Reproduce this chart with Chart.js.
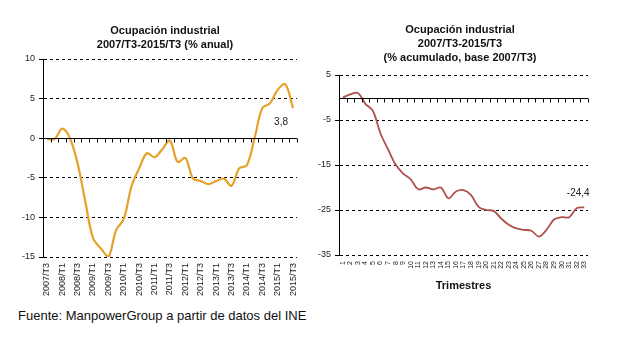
<!DOCTYPE html>
<html>
<head>
<meta charset="utf-8">
<script src="https://cdn.jsdelivr.net/npm/chart.js@4/dist/chart.umd.min.js"></script>
<style>
  body { margin: 0; background: #fff; width: 630px; height: 340px; position: relative; overflow: hidden; font-family: "Liberation Sans", Arial, sans-serif; }
  .box { position: absolute; top: 0; }
  .title { position: absolute; text-align: center; font-weight: bold; font-size: 11px; line-height: 14px; color: #111; }
  #footer { position: absolute; left: 18px; top: 308px; font-size: 13px; color: #111; }
</style>
</head>
<body>
<div class="box" style="left:0;width:310px;height:300px"><canvas id="left_chart" width="310" height="300"></canvas></div>
<div class="box" style="left:310px;width:320px;height:300px"><canvas id="right_chart" width="320" height="300"></canvas></div>
<div class="title" style="left:65px;width:200px;top:23px">Ocupación industrial<br>2007/T3-2015/T3 (% anual)</div>
<div class="title" style="left:360px;width:200px;top:22px">Ocupación industrial<br>2007/T3-2015/T3<br>(% acumulado, base 2007/T3)</div>
<div id="footer">Fuente: ManpowerGroup a partir de datos del INE</div>
<script>
// DATA
const quarters = ['2007/T3', '2007/T4', '2008/T1', '2008/T2', '2008/T3', '2008/T4', '2009/T1', '2009/T2', '2009/T3',
	'2009/T4', '2010/T1', '2010/T2', '2010/T3', '2010/T4', '2011/T1', '2011/T2', '2011/T3', '2011/T4', '2012/T1',
	'2012/T2', '2012/T3', '2012/T4', '2013/T1', '2013/T2', '2013/T3', '2013/T4', '2014/T1', '2014/T2', '2014/T3',
	'2014/T4', '2015/T1', '2015/T2', '2015/T3'];
const annual_values = [-0.1, -0.1, 1.2, 0.0, -3.2, -8.0, -12.6, -13.9, -15.0, -11.6, -10.2, -6.1, -3.8, -1.9, -2.4, -1.4,
	-0.3, -3.0, -2.5, -5.1, -5.4, -5.8, -5.4, -5.1, -6.0, -3.8, -3.4, 0.0, 3.8, 4.4, 6.1, 6.8, 3.8];
const trimestres = ['1', '2', '3', '4', '5', '6', '7', '8', '9', '10', '11', '12', '13', '14', '15', '16', '17', '18',
	'19', '20', '21', '22', '23', '24', '25', '26', '27', '28', '29', '30', '31', '32', '33'];
const cumulative_values = [0.0, 0.7, 1.0, -1.4, -3.0, -8.0, -11.5, -14.9, -16.9, -18.2, -20.4, -20.0, -20.4, -20.0, -22.4,
	-20.9, -20.6, -21.7, -24.3, -25.0, -25.2, -26.9, -28.3, -29.1, -29.4, -29.6, -30.9, -29.4, -27.1, -26.6, -26.6, -24.6, -24.4];

const FONT = "'Liberation Sans', Arial, sans-serif";

// ZERO LINE + LAST VALUE LABEL
const extras = {
	id: 'extras',
	afterDatasetsDraw(chart, args, opts) {
		const {ctx, chartArea, scales} = chart;
		const x = scales.x, y = scales.y;
		const y0 = Math.round(y.getPixelForValue(0)) + 0.5;
		ctx.save();
		ctx.strokeStyle = '#000';
		ctx.lineWidth = 1;
		ctx.beginPath();
		ctx.moveTo(chartArea.left, y0);
		ctx.lineTo(chartArea.right, y0);
		for (let i = 0; i <= chart.data.labels.length; i++) {
			const px = Math.round(x.getPixelForValue(i - 0.5)) + 0.5;
			ctx.moveTo(px, y0);
			ctx.lineTo(px, y0 + 4);
		}
		ctx.stroke();

		const meta = chart.getDatasetMeta(0);
		const values = chart.data.datasets[0].data;
		const last = meta.data[meta.data.length - 1];
		ctx.fillStyle = '#222';
		ctx.font = '10px ' + FONT;
		ctx.textAlign = 'center';
		ctx.textBaseline = 'middle';
		ctx.fillText(values[values.length - 1].toFixed(1).replace('.', ','), last.x + opts.dx, last.y + opts.dy);
		ctx.restore();
	}
};

function makeChart(id, labels, values, color, width, yMin, yMax, step, pad, yWidth, xHeight, tickFont, everyOther, xTitle, label_offset) {
	return new Chart(document.getElementById(id).getContext('2d'), {
		type: 'line',
		data: {
			labels: labels,
			datasets: [{
				data: values,
				borderColor: color,
				backgroundColor: color,
				borderWidth: width,
				pointRadius: 0,
				tension: 0.35,
				fill: false
			}]
		},
		options: {
			responsive: false,
			animation: false,
			layout: { padding: pad },
			plugins: {
				legend: { display: false },
				tooltip: { enabled: false },
				extras: label_offset
			},
			scales: {
				x: {
					offset: true,
					grid: { display: false, drawTicks: false },
					border: { display: false },
					ticks: {
						autoSkip: false,
						maxRotation: 90,
						minRotation: 90,
						padding: 6,
						color: '#222',
						font: { family: FONT, size: tickFont },
						callback: function (val, i) {
							return (everyOther && i % 2) ? '' : this.getLabelForValue(val);
						}
					},
					title: {
						display: !!xTitle,
						text: xTitle || '',
						color: '#111',
						font: { family: FONT, size: 11, weight: 'bold' },
						padding: { top: 0, bottom: 7 }
					},
					afterFit: (scale) => { scale.height = xHeight; }
				},
				y: {
					min: yMin,
					max: yMax,
					grid: {
						color: (c) => c.tick && c.tick.value === 0 ? 'rgba(0,0,0,0)' : '#000',
						lineWidth: 1,
						tickLength: 4,
						tickColor: '#000'
					},
					border: { display: true, color: '#000', width: 1, dash: [3, 3] },
					ticks: {
						stepSize: step,
						padding: 4,
						color: '#222',
						font: { family: FONT, size: 9 }
					},
					afterFit: (scale) => { scale.width = yWidth; }
				}
			}
		},
		plugins: [extras]
	});
}

// LEFT CHART
makeChart('left_chart', quarters, annual_values, '#e6a12a', 2.2, -15, 10, 5,
	{ left: 0, right: 10, top: 59, bottom: 0 }, 43, 43, 9, true, null, { dx: -12, dy: 14 });

// RIGHT CHART
makeChart('right_chart', trimestres, cumulative_values, '#b0504c', 1.8, -35, 5, 10,
	{ left: 0, right: 42, top: 75, bottom: 0 }, 29, 45, 7, false, 'Trimestres', { dx: -6, dy: -14 });
</script>
</body>
</html>
